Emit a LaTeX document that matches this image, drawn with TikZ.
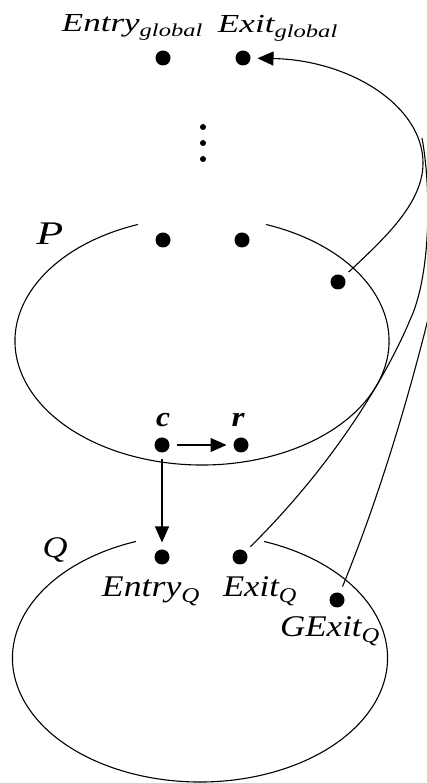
\documentclass[tikz,border=0pt]{standalone}
\usepackage{fontspec}
\usepackage{graphicx}
\setmainfont{Liberation Serif}
\usetikzlibrary{arrows.meta}
\newcommand{\fitwidth}[2]{\resizebox{#1}{\height}{#2}}
\begin{document}
\begin{tikzpicture}[x=1pt,y=1pt,
  dot/.style={circle,fill=black,inner sep=0pt,minimum size=15pt,outer sep=7pt},
  smalldot/.style={circle,fill=black,inner sep=0pt,minimum size=6pt},
  toplbl/.style={inner sep=0pt,anchor=base,font=\fontsize{26}{30}\selectfont\itshape},
  botlbl/.style={inner sep=0pt,anchor=base,font=\fontsize{30}{34}\selectfont\itshape},
  boldlbl/.style={inner sep=0pt,anchor=base,font=\fontsize{28}{30}\selectfont\bfseries\itshape},
  curve/.style={line width=1.1pt},
  arr/.style={line width=1.1pt,-{Triangle[length=16pt,width=14pt]}}
]
\useasboundingbox (0,0) rectangle (427,783);
\clip (0,0) rectangle (427,783);

% ellipses with a gap at the top
\draw[curve] (202,442) ++(110:187 and 124) arc[start angle=110,end angle=430,x radius=187,y radius=124];
\draw[curve] (200,125) ++(110:187.5 and 124) arc[start angle=110,end angle=430,x radius=187.5,y radius=124];

% dots
\node[dot] (eg) at (163,725) {};
\node[dot] (xg) at (243,725) {};
\node[smalldot] (v1) at (203,656) {};
\node[smalldot] (v2) at (203,640) {};
\node[smalldot] (v3) at (203,624) {};
\node[dot] (pen) at (163,543) {};
\node[dot] (pex) at (242,543) {};
\node[dot] (pg) at (338,501) {};
\node[dot] (c) at (162,338) {};
\node[dot] (r) at (241,338) {};
\node[dot] (eq) at (162,226) {};
\node[dot] (xq) at (240,226) {};
\node[dot] (gq) at (337,183) {};

% labels
\node[toplbl] (leg) at (132.5,751) {\fitwidth{141pt}{Entry\textsubscript{global}}};
\node[toplbl] (lxg) at (278,750) {\fitwidth{120pt}{Exit\textsubscript{global}}};
\node[botlbl,font=\fontsize{33}{36}\selectfont\itshape] (lP) at (50,538) {\fitwidth{27pt}{P}};
\node[boldlbl] (lc) at (163,356) {\fitwidth{14pt}{c}};
\node[boldlbl] (lr) at (238,356) {\fitwidth{13pt}{r}};
\node[botlbl] (lQ) at (55,225) {\fitwidth{25pt}{Q}};
\node[botlbl] (leq) at (151,186) {\fitwidth{98pt}{Entry\textsubscript{Q}}};
\node[botlbl] (lxq) at (260,186) {\fitwidth{74pt}{Exit\textsubscript{Q}}};
\node[botlbl] (lgq) at (330,146) {\fitwidth{100pt}{GExit\textsubscript{Q}}};

% connectors
\draw[arr] (c) -- (r);
\draw[arr] (c) -- (eq);
\coordinate (turn) at (423,620);
\draw[arr] (pg) .. controls (385,545) and (423,580) .. (turn)
  .. controls (423,677) and (350,723) .. (xg);
\coordinate (mid1) at (410,463);
\coordinate (join) at (422,645);
\draw[curve] (xq) .. controls (340,325) and (390,415) .. (mid1)
  .. controls (430,505) and (432,590) .. (join);
\coordinate (gend) at (432,480);
\draw[curve] (gq) .. controls (385,300) and (415,410) .. (gend);
\end{tikzpicture}
\end{document}
